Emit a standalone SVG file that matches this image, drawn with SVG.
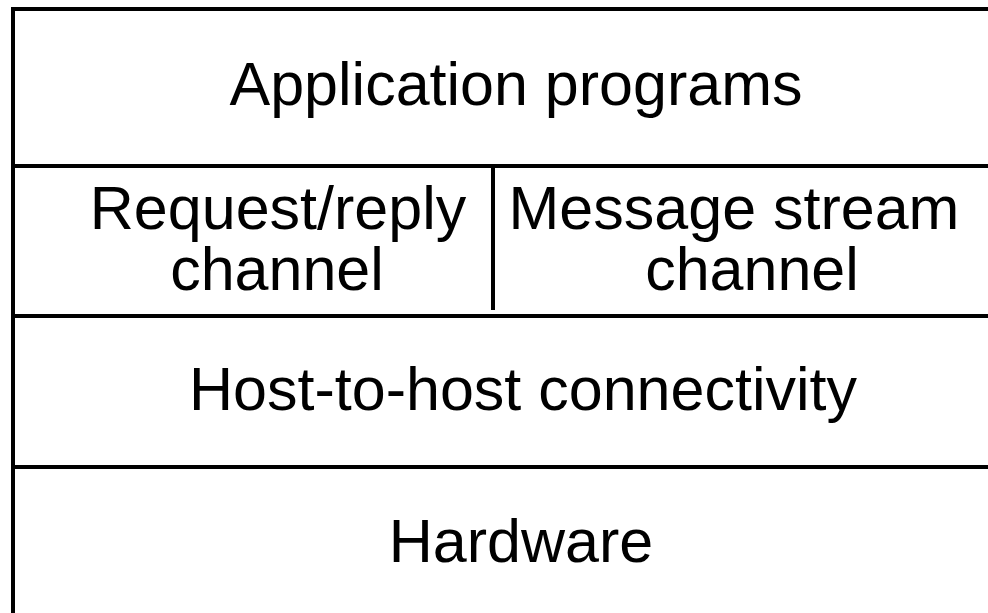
<svg xmlns="http://www.w3.org/2000/svg" width="988" height="613" viewBox="0 0 988 613">
<style>
.ln{stroke:#000;stroke-width:4;fill:none}
.t{font-family:"Liberation Sans",Arial,sans-serif;font-size:61px;fill:#000;text-anchor:middle}
</style>
<rect width="988" height="613" fill="#fff"/>
<g id="connectors">
<path class="ln" d="M13,613 V9 H988"/>
<path class="ln" d="M13,166 H988 M13,316 H988 M13,467 H988"/>
<path class="ln" d="M493,166 V310"/>
</g>
<g id="app"><text class="t" x="516" y="105">Application programs</text></g>
<g id="rr"><text class="t" x="278" y="229">Request/reply</text><text class="t" x="277" y="290">channel</text></g>
<g id="ms"><text class="t" x="734" y="229">Message stream</text><text class="t" x="752" y="290">channel</text></g>
<g id="h2h"><text class="t" x="523" y="410">Host-to-host connectivity</text></g>
<g id="hw"><text class="t" x="521" y="562">Hardware</text></g>
</svg>
